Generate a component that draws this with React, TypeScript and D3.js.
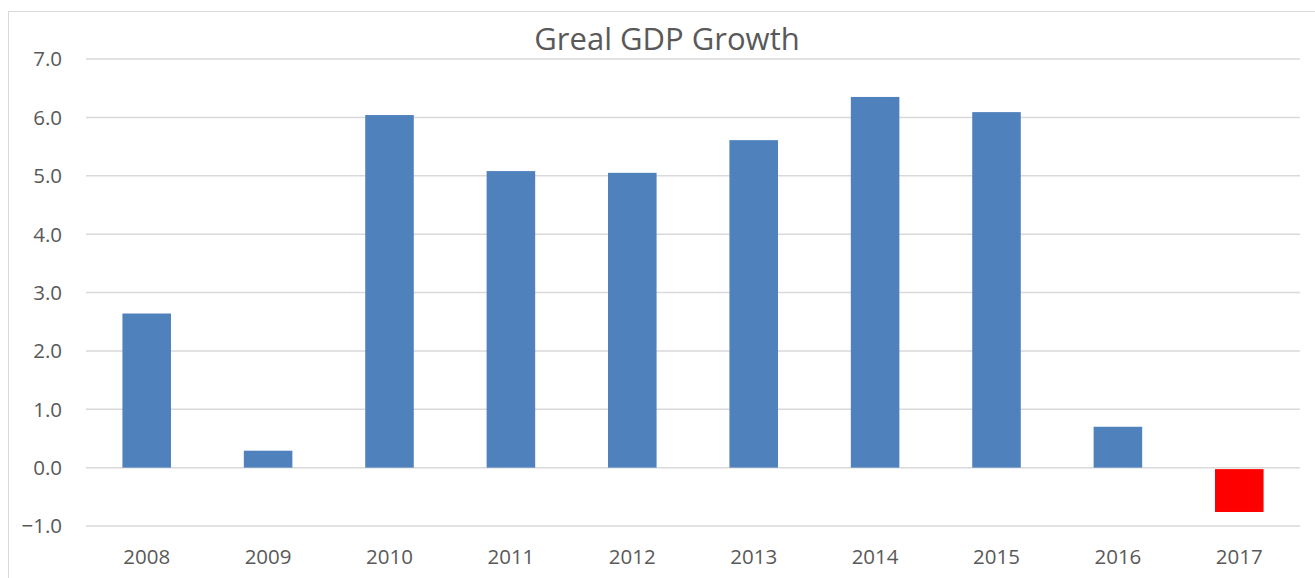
import React from "react";
import * as d3 from "d3";

const years = ["2008", "2009", "2010", "2011", "2012", "2013", "2014", "2015", "2016", "2017"];
const growth = [2.64, 0.29, 6.04, 5.08, 5.05, 5.61, 6.35, 6.09, 0.7, -0.76];
const yTicks = [-1, 0, 1, 2, 3, 4, 5, 6, 7];
const title = "Greal GDP Growth";

const W = 1315;
const H = 578;
const left = 86;
const right = 1300;
const top = 59;
const bottom = 526;

export default function App() {
  const x = d3.scaleBand<string>().domain(years).range([left, right]).paddingInner(0.6).paddingOuter(0.3);
  const y = d3.scaleLinear().domain([-1, 7]).range([bottom, top]);
  const font = "'Open Sans', sans-serif";
  return (
    <svg width={W} height={H} style={{ position: "fixed", left: 0, top: 0, background: "#fff" }}>
      <rect x={8.5} y={11.5} width={W} height={H} fill="#fff" stroke="#d9d9d9" strokeWidth={1} />
      <text x={667} y={50} textAnchor="middle" fontFamily={font} fontSize={31} fill="#595959">{title}</text>
      {yTicks.map((t) => (
        <g key={t}>
          <line x1={left} x2={right} y1={y(t)} y2={y(t)} stroke="#d9d9d9" strokeWidth={1.5} />
          <text x={62} y={y(t)} dy="0.36em" textAnchor="end" fontFamily={font} fontSize={20.5} fill="#595959">{d3.format(".1f")(t)}</text>
        </g>
      ))}
      {years.map((yr, i) => {
        const v = growth[i];
        const y0 = y(0);
        const y1 = y(v);
        return (
          <rect key={yr} x={x(yr)} width={x.bandwidth()} y={Math.min(y0, y1) + (v < 0 ? 1.5 : 0)} height={Math.abs(y1 - y0) - (v < 0 ? 1.5 : 0)}
            fill={v < 0 ? "#ff0000" : "#4f81bd"} />
        );
      })}
      {years.map((yr) => (
        <text key={yr} x={(x(yr) as number) + x.bandwidth() / 2} y={564} textAnchor="middle" fontFamily={font} fontSize={20.5} fill="#595959">{yr}</text>
      ))}
    </svg>
  );
}
